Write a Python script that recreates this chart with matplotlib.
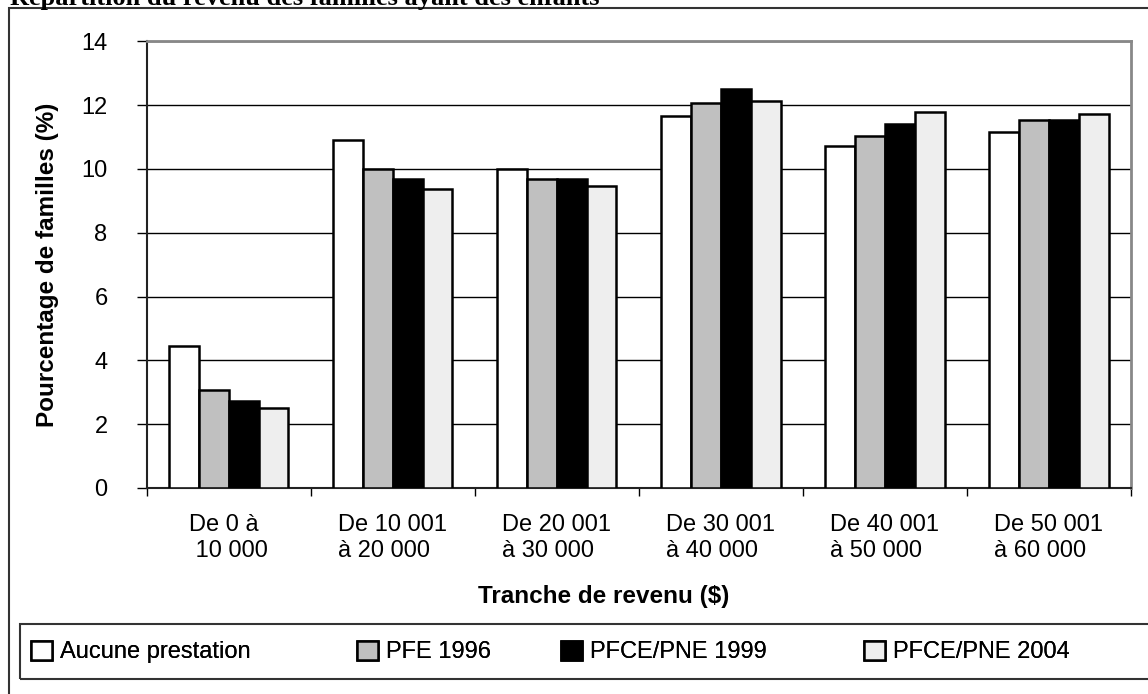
import numpy as np
import matplotlib
matplotlib.use("Agg")
import matplotlib.pyplot as plt

# --- data ---
categories = [
    "De 0 à\n 10 000",
    "De 10 001\nà 20 000",
    "De 20 001\nà 30 000",
    "De 30 001\nà 40 000",
    "De 40 001\nà 50 000",
    "De 50 001\nà 60 000",
]
series_names = ["Aucune prestation", "PFE 1996", "PFCE/PNE 1999", "PFCE/PNE 2004"]
aucune = [4.44, 10.90, 9.99, 11.65, 10.71, 11.16]
pfe_1996 = [3.06, 9.99, 9.67, 12.08, 11.03, 11.52]
pfce_1999 = [2.73, 9.69, 9.69, 12.52, 11.42, 11.54]
pfce_2004 = [2.52, 9.37, 9.48, 12.13, 11.77, 11.71]
y_ticks = [0, 2, 4, 6, 8, 10, 12, 14]

series = [aucune, pfe_1996, pfce_1999, pfce_2004]
colors = ["#FFFFFF", "#C0C0C0", "#000000", "#EEEEEE"]

plt.rcParams["font.family"] = ["Liberation Sans", "DejaVu Sans"]

W, H = 1148, 694
fig = plt.figure(figsize=(W / 100, H / 100), dpi=100)
ax = fig.add_axes([146.7 / W, 1 - 488 / H, (1131 - 146.7) / W, (488 - 41.3) / H])

# --- bars ---
n = len(categories)
centers = np.arange(n) + 0.5
bar_w = 1 / 5.5
offsets = (np.arange(4) - 1.5) * bar_w
handles = []
for vals, col, name, off in zip(series, colors, series_names, offsets):
    b = ax.bar(centers + off, vals, width=bar_w, color=col, edgecolor="black",
               linewidth=1.8, label=name, zorder=3)
    handles.append(b)

# --- axes styling ---
ax.set_xlim(0, n)
ax.set_ylim(0, 14)
ax.set_yticks(y_ticks)
ax.set_yticklabels([str(t) for t in y_ticks], fontsize=17)
ax.yaxis.grid(True, color="black", linewidth=1)
ax.set_axisbelow(True)

ax.set_xticks(np.arange(n + 1))
ax.set_xticklabels([])
ax.set_xticks(centers, minor=True)
ax.set_xticklabels(categories, minor=True, fontsize=17)
for lab in ax.get_xticklabels(minor=True):
    lab.set_multialignment("left")
ax.tick_params(axis="x", which="major", direction="out", length=6, width=1)
ax.tick_params(axis="x", which="minor", length=0, pad=19)
ax.tick_params(axis="y", direction="out", length=7.2, width=1, pad=21)

for side in ["top", "right"]:
    ax.spines[side].set_color("#888888")
    ax.spines[side].set_linewidth(2)
for side in ["left", "bottom"]:
    ax.spines[side].set_color("#222222")
    ax.spines[side].set_linewidth(1.5)

ax.set_xlabel("Tranche de revenu ($)", fontsize=17.5, fontweight="bold", va="center")
ax.xaxis.set_label_coords((603.6 - 146.7) / (1131 - 146.7), (488 - 597) / (488 - 41.3))
ax.set_ylabel("Pourcentage de familles (%)", fontsize=17.5, fontweight="bold", va="center")
ax.yaxis.set_label_coords((48 - 146.7) / (1131 - 146.7), 0.5)

# --- title (cut off at the top like the original) ---
fig.text(10 / W, 1 - 4.5 / H, "Répartition du revenu des familles ayant des enfants",
         fontsize=19, fontweight="bold", family=["Liberation Serif", "DejaVu Serif"],
         ha="left", va="baseline")

# --- outer frame ---
fig.add_artist(plt.Rectangle((9 / W, -0.1), 1.2, 1 - 8 / H + 0.1, transform=fig.transFigure,
                             fill=False, edgecolor="#333333", linewidth=1.5, clip_on=False))

# --- legend: box runs off the right edge, entries placed like the Excel layout ---
fig.add_artist(plt.Rectangle((20 / W, 1 - 679 / H), 1.2, 55 / H, transform=fig.transFigure,
                             fill=False, edgecolor="#333333", linewidth=1.5, clip_on=False))
legend_x = [31, 357, 561, 864]
for h, name, lx in zip(handles, series_names, legend_x):
    leg = fig.legend(handles=[h], labels=[name], loc="center left",
                     bbox_to_anchor=(lx / W, 1 - 652 / H), frameon=False,
                     fontsize=17, handlelength=0.875, handleheight=0.875,
                     handletextpad=0.35, borderpad=0, borderaxespad=0)
    fig.add_artist(leg)

fig.savefig("out.png", dpi=100)
